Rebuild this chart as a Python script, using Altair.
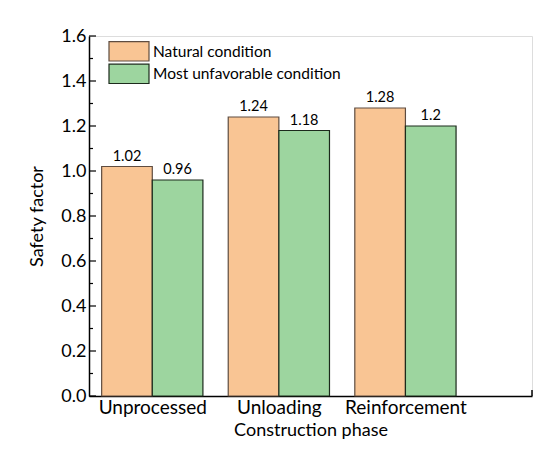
import altair as alt
import pandas as pd
import numpy as np

phases = ["Unprocessed", "Unloading", "Reinforcement"]
series = ["Natural condition", "Most unfavorable condition"]
natural = [1.02, 1.24, 1.28]
unfavorable = [0.96, 1.18, 1.2]
fill_colors = ["#F9C594", "#9DD59F"]
stroke_colors = ["#5e4c40", "#1c2a1c"]

FONT = "Lato"

rows = []
for i, p in enumerate(phases):
    for s, vals in enumerate([natural, unfavorable]):
        rows.append({"phase": p, "idx": i + 1, "s": s, "series": series[s],
                     "value": vals[i], "label": str(vals[i])})
df = pd.DataFrame(rows)

major_ticks = pd.DataFrame({"v": np.round(np.arange(0, 1.61, 0.2), 2)})
minor_ticks = pd.DataFrame({"v": np.round(np.arange(0.1, 1.6, 0.2), 2)})
leg = pd.DataFrame({"series": series, "k": [0, 1]})

xscale = alt.Scale(domain=[0.5, 4.0], nice=False, zero=False)
yscale = alt.Scale(domain=[0, 1.6], nice=False)
color_scale = alt.Scale(domain=series, range=fill_colors)
stroke_scale = alt.Scale(domain=series, range=stroke_colors)

label_expr = "datum.value == 1 ? 'Unprocessed' : datum.value == 2 ? 'Unloading' : datum.value == 3 ? 'Reinforcement' : ''"

base = alt.Chart(df).transform_calculate(
    x0="datum.idx - 0.4 + 0.4 * datum.s",
    x1="datum.idx + 0.4 * datum.s",
    xm="datum.idx - 0.2 + 0.4 * datum.s",
)

bars = base.mark_bar(strokeWidth=1.2).encode(
    x=alt.X("x0:Q", scale=xscale,
            axis=alt.Axis(values=[1, 2, 3], labelExpr=label_expr, ticks=False,
                          title="Construction phase", labelFontSize=19,
                          titleFontSize=18, labelPadding=2, titlePadding=4,
                          titleFontWeight="normal", domainColor="black",
                          domainWidth=1.5, grid=False, labelColor="black",
                          titleColor="black", labelFont=FONT, titleFont=FONT)),
    x2="x1:Q",
    y=alt.Y("value:Q", scale=yscale,
            axis=alt.Axis(values=list(major_ticks["v"]), format=".1f", ticks=False,
                          title="Safety factor", labelFontSize=18, titleFontSize=18,
                          labelPadding=3, titlePadding=14, titleFontWeight="normal",
                          domainColor="black", domainWidth=1.5, grid=False,
                          labelColor="black", titleColor="black",
                          labelFont=FONT, titleFont=FONT)),
    y2=alt.Y2(datum=0),
    fill=alt.Fill("series:N", scale=color_scale, legend=None),
    stroke=alt.Stroke("series:N", scale=stroke_scale, legend=None),
)

texts = base.mark_text(baseline="bottom", dy=-3, fontSize=14.5, font=FONT,
                       color="black").encode(
    x=alt.X("xm:Q", scale=xscale),
    y=alt.Y("value:Q", scale=yscale),
    text="label:N",
)

maj = alt.Chart(major_ticks).mark_rule(color="black", strokeWidth=1.2).encode(
    y=alt.Y("v:Q", scale=yscale), x=alt.value(0), x2=alt.value(7))
mnr = alt.Chart(minor_ticks).mark_rule(color="black", strokeWidth=1.2).encode(
    y=alt.Y("v:Q", scale=yscale), x=alt.value(0), x2=alt.value(4))
end_tick = alt.Chart(pd.DataFrame({"v": [4.0]})).mark_rule(
    color="black", strokeWidth=1.5).encode(
    x=alt.X("v:Q", scale=xscale), y=alt.value(360), y2=alt.value(354))

leg_rect = alt.Chart(leg).transform_calculate(
    ly0="5.7 + 22.5 * datum.k", ly1="25 + 22.5 * datum.k"
).mark_rect(strokeWidth=1.2).encode(
    x=alt.value(20), x2=alt.value(60),
    y=alt.Y("ly0:Q", scale=None), y2="ly1:Q",
    fill=alt.Fill("series:N", scale=color_scale, legend=None),
    stroke=alt.Stroke("series:N", scale=stroke_scale, legend=None),
)
leg_text = alt.Chart(leg).transform_calculate(
    ly="15.7 + 22.5 * datum.k"
).mark_text(align="left", baseline="middle", fontSize=15.5, font=FONT,
            color="black").encode(
    x=alt.value(64), y=alt.Y("ly:Q", scale=None), text="series:N")

chart = alt.layer(bars, texts, maj, mnr, end_tick, leg_rect, leg_text).properties(
    width=443, height=360,
    autosize=alt.AutoSizeParams(type="none"),
    padding={"left": 81, "top": 28, "right": 20, "bottom": 59},
).configure_view(stroke=None).configure(background="white")

chart.save("out.html", embed_options={"renderer": "svg", "actions": False})
